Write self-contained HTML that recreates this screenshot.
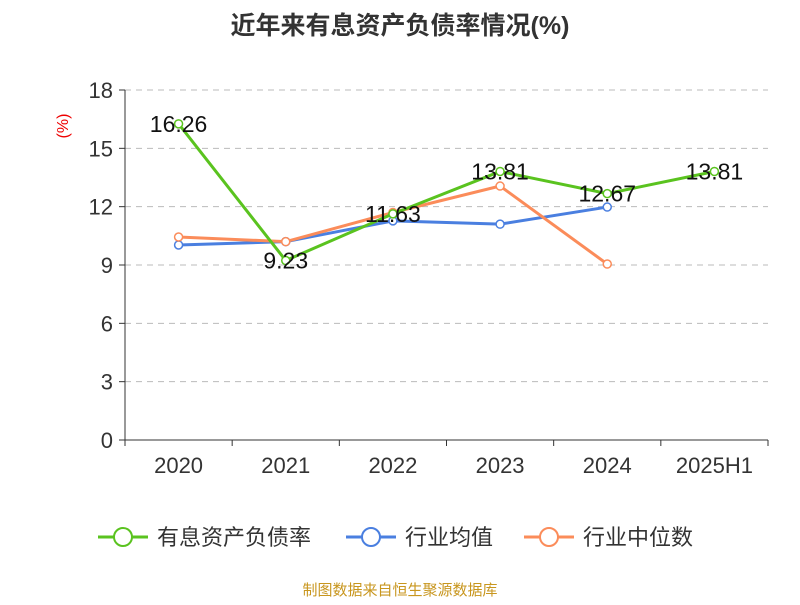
<!DOCTYPE html>
<html><head><meta charset="utf-8"><style>
body{margin:0;background:#fff;}
svg text{font-family:"Liberation Sans","Noto Sans CJK SC",sans-serif;}
</style></head><body>
<svg id="chart" width="800" height="600" xmlns="http://www.w3.org/2000/svg">
<text x="400" y="34" text-anchor="middle" font-size="25" font-weight="bold" fill="#333">近年来有息资产负债率情况(%)</text>
<text x="68" y="126" text-anchor="middle" font-size="16" fill="#e00" transform="rotate(-90 68 126)">(%)</text>
<g id="grid"></g><g id="axes"></g><g id="series"></g>
<g>
<g><line x1="98" y1="537" x2="148" y2="537" stroke="#5ac31f" stroke-width="3"/><circle cx="123" cy="537" r="9" fill="#fff" stroke="#5ac31f" stroke-width="2"/><text x="157" y="545" font-size="22" fill="#333">有息资产负债率</text></g>
<g><line x1="346" y1="537" x2="396" y2="537" stroke="#4a7fe0" stroke-width="3"/><circle cx="371" cy="537" r="9" fill="#fff" stroke="#4a7fe0" stroke-width="2"/><text x="405" y="545" font-size="22" fill="#333">行业均值</text></g>
<g><line x1="524" y1="537" x2="574" y2="537" stroke="#fb8c5a" stroke-width="3"/><circle cx="549" cy="537" r="9" fill="#fff" stroke="#fb8c5a" stroke-width="2"/><text x="583" y="545" font-size="22" fill="#333">行业中位数</text></g>
</g>
<text x="400" y="595" text-anchor="middle" font-size="15" fill="#c8961e">制图数据来自恒生聚源数据库</text>
</svg>
<script>
const categories=["2020","2021","2022","2023","2024","2025H1"];
const debtRatio=[16.26,9.23,11.63,13.81,12.67,13.81];
const industryAvg=[10.03,10.2,11.27,11.1,11.98,null];
const industryMedian=[10.44,10.2,11.7,13.06,9.05,null];
const yTicks=[0,3,6,9,12,15,18];
const NS="http://www.w3.org/2000/svg";
const x0=125,x1=768,yb=440,yt=90;
const bw=(x1-x0)/categories.length;
const xs=i=>x0+bw*(i+0.5);
const ys=v=>yb-(v/18)*(yb-yt);
function mk(parent,tag,attrs){const e=document.createElementNS(NS,tag);for(const k in attrs)e.setAttribute(k,attrs[k]);document.getElementById(parent).appendChild(e);return e;}
yTicks.forEach(t=>{
 if(t>0){const g=mk('grid','line',{x1:x0,x2:x1,y1:ys(t),y2:ys(t),stroke:'#bbb','stroke-dasharray':'6,5'});
 
 }
 const tk=mk('axes','line',{x1:x0-6,x2:x0,y1:ys(t),y2:ys(t),stroke:'#333'});
 
 
 const l=mk('axes','text',{x:x0-12,y:ys(t)+8,'text-anchor':'end','font-size':'22',fill:'#333'});l.textContent=t;
 
 
});
const ya=mk('axes','line',{x1:x0,x2:x0,y1:yt,y2:yb,stroke:'#333'});


const xa=mk('axes','line',{x1:x0,x2:x1,y1:yb,y2:yb,stroke:'#333'});


for(let i=0;i<=categories.length;i++){const t=mk('axes','line',{x1:x0+bw*i,x2:x0+bw*i,y1:yb,y2:yb+6,stroke:'#333'});
 
 }
categories.forEach((c,i)=>{const l=mk('axes','text',{x:xs(i),y:yb+33,'text-anchor':'middle','font-size':'22',fill:'#333'});l.textContent=c;
 
 });
function series(vals,color,name,labels){
 const pts=vals.map((v,i)=>v==null?null:[xs(i),ys(v)]).filter(p=>p);
 const pl=mk('series','polyline',{points:pts.map(p=>p.join(',')).join(' '),fill:'none',stroke:color,'stroke-width':3});
 
 
 vals.forEach((v,i)=>{if(v==null)return;
  const c=mk('series','circle',{cx:xs(i),cy:ys(v),r:4,fill:'#fff',stroke:color,'stroke-width':1.5});
  
  
  if(labels){const t=mk('series','text',{x:xs(i),y:ys(v)+8,'text-anchor':'middle','font-size':'23',fill:'#111'});t.textContent=v.toFixed(2);
   
   }
 });
}
series(industryAvg,'#4a7fe0','industry-avg',false);
series(industryMedian,'#fb8c5a','industry-median',false);
series(debtRatio,'#5ac31f','debt-ratio',true);
</script>
</body></html>
